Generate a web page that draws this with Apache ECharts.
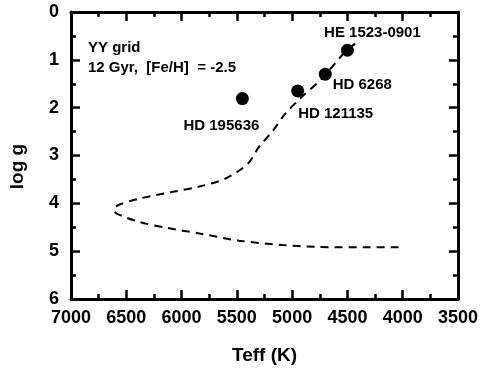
<!DOCTYPE html>
<html>
<head>
<meta charset="utf-8">
<script src="https://cdn.jsdelivr.net/npm/echarts@6/dist/echarts.min.js"></script>
<style>html,body{margin:0;padding:0;background:#fff}#c{width:481px;height:371px}</style>
</head>
<body>
<div id="c"></div>
<script>
// Isochrone (YY grid, 12 Gyr, [Fe/H] = -2.5)
const isoTeff = [4430, 4520, 4730, 4910, 5060, 5180, 5300, 5400, 5600, 5840, 6080, 6380, 6575, 6610, 6590, 6380, 6140, 5840, 5480, 5090, 4790, 4340, 4000];
const isoLogg = [0.66, 0.83, 1.39, 1.77, 2.12, 2.50, 2.82, 3.17, 3.48, 3.65, 3.76, 3.90, 4.04, 4.13, 4.21, 4.39, 4.51, 4.63, 4.78, 4.87, 4.91, 4.92, 4.92];
// Stars
const starNames = ['HE 1523-0901', 'HD 6268', 'HD 121135', 'HD 195636'];
const starTeff = [4500, 4700, 4950, 5450];
const starLogg = [0.80, 1.30, 1.65, 1.81];
// Axis ticks
const xTicks = [7000, 6500, 6000, 5500, 5000, 4500, 4000, 3500];
const yTicks = [0, 1, 2, 3, 4, 5, 6];

const FONT = 'Liberation Sans, Arial, sans-serif';
const labelOffsets = {
  'HE 1523-0901': [25, -17],
  'HD 6268': [37, 11],
  'HD 121135': [38, 23],
  'HD 195636': [-21, 27]
};

function axisLine() { return { show: true, onZero: false, lineStyle: { color: '#000', width: 3 } }; }
function tick() { return { show: true, inside: true, length: 9, lineStyle: { color: '#000', width: 2.5 } }; }
function minor() { return { show: true, splitNumber: 2, length: 5, lineStyle: { color: '#000', width: 2.5 } }; }

const xMin = Math.min(...xTicks), xMax = Math.max(...xTicks);
const yMin = Math.min(...yTicks), yMax = Math.max(...yTicks);

const chart = echarts.init(document.getElementById('c'), null, { renderer: 'canvas' });
chart.setOption({
  animation: false,
  backgroundColor: '#fff',
  grid: { left: 71, right: 21, top: 12, bottom: 72 },
  xAxis: [{
    type: 'value', min: xMin, max: xMax, interval: 500, inverse: true, position: 'bottom',
    name: 'Teff (K)', nameLocation: 'middle', nameGap: 47,
    nameTextStyle: { fontFamily: FONT, fontWeight: 'bold', fontSize: 19, color: '#000' },
    axisLine: axisLine(), axisTick: tick(), minorTick: minor(), splitLine: { show: false },
    axisLabel: { fontFamily: FONT, fontWeight: 'bold', fontSize: 18, color: '#000', margin: 10, formatter: v => String(v) }
  }, {
    type: 'value', min: xMin, max: xMax, interval: 500, inverse: true, position: 'top',
    axisLine: axisLine(), axisTick: tick(), minorTick: minor(), splitLine: { show: false },
    axisLabel: { show: false }
  }],
  yAxis: [{
    type: 'value', min: yMin, max: yMax, interval: 1, inverse: true, position: 'left',
    name: 'log g', nameLocation: 'middle', nameGap: 44,
    nameTextStyle: { fontFamily: FONT, fontWeight: 'bold', fontSize: 19, color: '#000', padding: [0, 22, 0, 0] },
    axisLine: axisLine(), axisTick: tick(), minorTick: minor(), splitLine: { show: false },
    axisLabel: { fontFamily: FONT, fontWeight: 'bold', fontSize: 18, color: '#000', margin: 12, formatter: v => String(v) }
  }, {
    type: 'value', min: yMin, max: yMax, interval: 1, inverse: true, position: 'right',
    axisLine: axisLine(), axisTick: tick(), minorTick: minor(), splitLine: { show: false },
    axisLabel: { show: false }
  }],
  graphic: [{
    type: 'text', left: 88, top: 38,
    style: { text: 'YY grid\n12 Gyr,  [Fe/H]  = -2.5', fontFamily: FONT, fontWeight: 'bold', fontSize: 15, lineHeight: 20, fill: '#000' }
  }],
  series: [{
    type: 'line', xAxisIndex: 0, yAxisIndex: 0,
    data: isoTeff.map((t, i) => [t, isoLogg[i]]),
    showSymbol: false, symbol: 'none', smooth: 0.3,
    lineStyle: { color: '#000', width: 2, type: [8, 6] }
  }, {
    type: 'scatter', xAxisIndex: 0, yAxisIndex: 0,
    symbol: 'circle', symbolSize: 13,
    itemStyle: { color: '#000', opacity: 1 },
    data: starNames.map((n, i) => ({
      name: n, value: [starTeff[i], starLogg[i]],
      label: {
        show: true, position: 'inside', offset: labelOffsets[n], formatter: '{b}',
        fontFamily: FONT, fontWeight: 'bold', fontSize: 15, color: '#000'
      }
    }))
  }]
});
</script>
</body>
</html>
